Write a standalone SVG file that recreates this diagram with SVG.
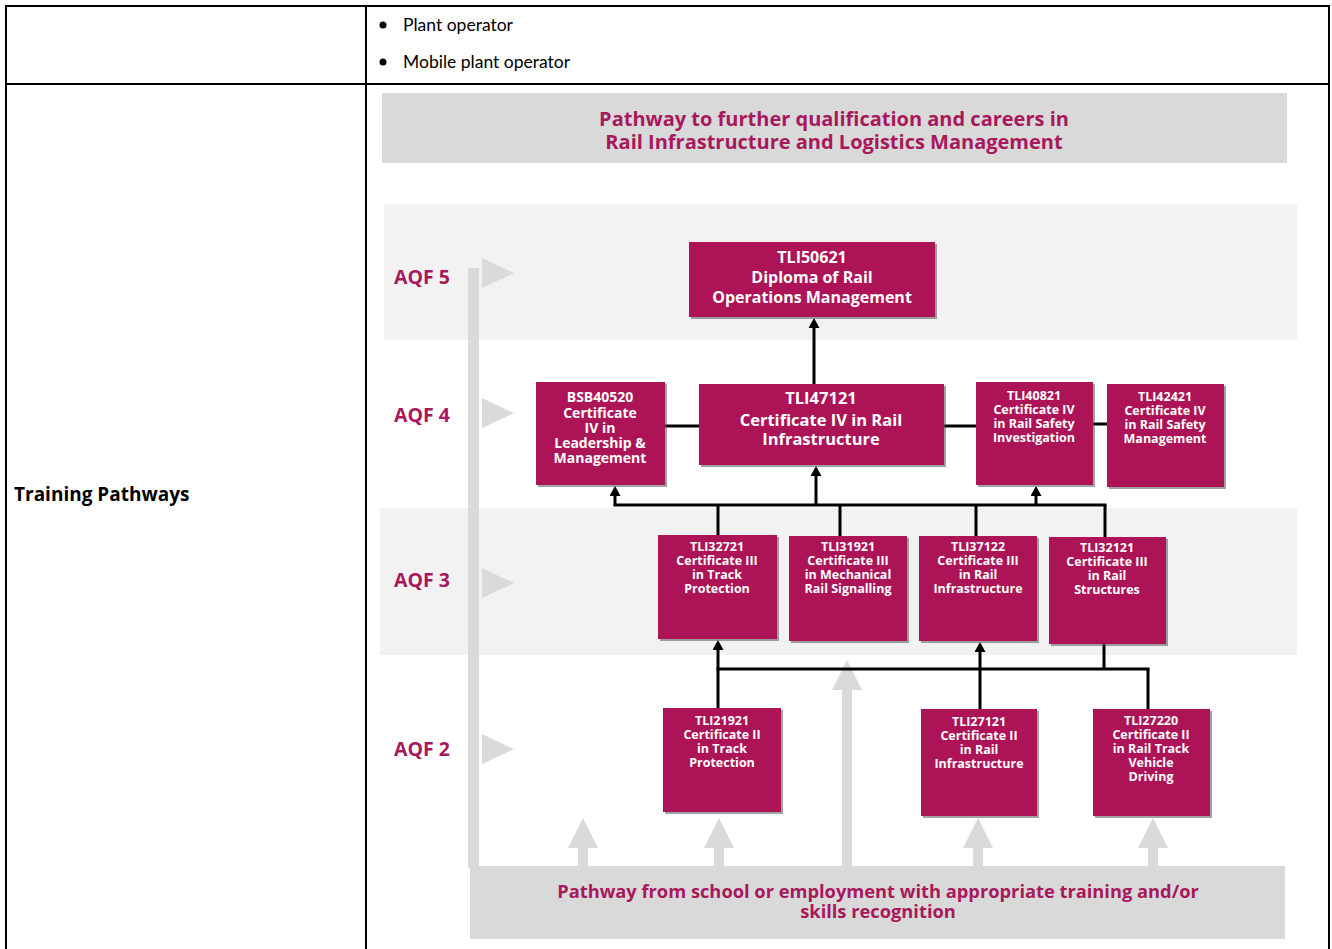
<svg xmlns="http://www.w3.org/2000/svg" width="1332" height="949" viewBox="0 0 1332 949">
<style>
.tbl{stroke:#000;stroke-width:2;fill:none}
.cell{font-family:Lato,'Open Sans',sans-serif;font-size:17.5px;fill:#000}
.lite{fill:#f2f2f2}
.gray{fill:#d9d9d9}
.hdr{font-family:'Open Sans',sans-serif;font-weight:700;font-size:20px;fill:#a8185c;text-anchor:middle}
.btm{font-family:'Open Sans',sans-serif;font-weight:700;font-size:18.3px;fill:#a8185c;text-anchor:middle}
.aqf{font-family:'Open Sans',sans-serif;font-weight:700;font-size:19.5px;fill:#a8185c}
.box{fill:#ad1457}
.sh{fill:#555;opacity:.55}
.bt{font-family:'Open Sans',sans-serif;font-weight:700;fill:#fff;text-anchor:middle}
.s{font-size:12.5px}
.conn{stroke:#000;stroke-width:3;fill:none}
</style>
<defs>
<marker id="ah" markerUnits="userSpaceOnUse" markerWidth="11" markerHeight="11" refX="7" refY="5.5" orient="auto">
<path d="M0,0 L10,5.5 L0,11 z" fill="#000"/>
</marker>
</defs>
<rect width="1332" height="949" fill="#fff"/>
<g id="table">
<line class="tbl" x1="5" y1="6" x2="1330" y2="6"/>
<line class="tbl" x1="6" y1="6" x2="6" y2="949"/>
<line class="tbl" x1="1329" y1="6" x2="1329" y2="949"/>
<line class="tbl" x1="366" y1="6" x2="366" y2="949"/>
<line class="tbl" x1="6" y1="84" x2="1329" y2="84"/>
<circle cx="383" cy="25" r="3.5"/>
<circle cx="383" cy="62" r="3.5"/>
<text class="cell" x="403" y="31">Plant operator</text>
<text class="cell" x="403" y="68">Mobile plant operator</text>
<text x="14" y="501" font-family="'Open Sans',sans-serif" font-weight="700" font-size="19">Training Pathways</text>
</g>
<g id="bands">
<rect class="gray" x="382" y="93" width="905" height="70"/>
<text class="hdr" x="834" y="126">Pathway to further qualification and careers in</text>
<text class="hdr" x="834" y="149">Rail Infrastructure and Logistics Management</text>
<rect class="lite" x="384" y="204" width="913" height="136"/>
<rect class="lite" x="380" y="508" width="917" height="147"/>
</g>
<g id="levels">
<text class="aqf" x="394" y="284">AQF 5</text>
<text class="aqf" x="394" y="422">AQF 4</text>
<text class="aqf" x="394" y="587">AQF 3</text>
<text class="aqf" x="394" y="756">AQF 2</text>
<g fill="#dadada">
<rect x="468" y="268" width="11" height="600"/>
<polygon points="482,258 514,273 482,288"/>
<polygon points="482,398 514,413 482,428"/>
<polygon points="482,568 514,583 482,598"/>
<polygon points="482,734 514,749 482,764"/>
<rect x="842" y="688" width="10" height="180"/>
<polygon points="832,690 847,660 862,690"/>
<rect x="578" y="846" width="10" height="22"/>
<polygon points="568,848 583,818 598,848"/>
<rect x="714" y="846" width="10" height="22"/>
<polygon points="704,848 719,818 734,848"/>
<rect x="973" y="846" width="10" height="22"/>
<polygon points="963,848 978,818 993,848"/>
<rect x="1148" y="846" width="10" height="22"/>
<polygon points="1138,848 1153,818 1168,848"/>
</g>
</g>
<g id="bottom-band">
<rect class="gray" x="470" y="866" width="815" height="73"/>
<text class="btm" x="878" y="898">Pathway from school or employment with appropriate training and/or</text>
<text class="btm" x="878" y="918">skills recognition</text>
</g>
<g id="connectors">
<line class="conn" x1="814" y1="384" x2="814" y2="321" marker-end="url(#ah)"/>
<line class="conn" x1="665" y1="426" x2="699" y2="426"/>
<line class="conn" x1="944" y1="426" x2="976" y2="426"/>
<line class="conn" x1="1093" y1="424" x2="1107" y2="424"/>
<line class="conn" x1="613.5" y1="505" x2="1106.5" y2="505"/>
<line class="conn" x1="615" y1="505" x2="615" y2="489" marker-end="url(#ah)"/>
<line class="conn" x1="816" y1="505" x2="816" y2="469" marker-end="url(#ah)"/>
<line class="conn" x1="1036" y1="505" x2="1036" y2="489" marker-end="url(#ah)"/>
<line class="conn" x1="718" y1="505" x2="718" y2="535"/>
<line class="conn" x1="840" y1="505" x2="840" y2="536"/>
<line class="conn" x1="976" y1="505" x2="976" y2="536"/>
<line class="conn" x1="1105" y1="505" x2="1105" y2="537"/>
<line class="conn" x1="716.5" y1="669" x2="1149.5" y2="669"/>
<line class="conn" x1="718" y1="708" x2="718" y2="643" marker-end="url(#ah)"/>
<line class="conn" x1="980" y1="709" x2="980" y2="645" marker-end="url(#ah)"/>
<line class="conn" x1="1104" y1="644" x2="1104" y2="669"/>
<line class="conn" x1="1148" y1="669" x2="1148" y2="709"/>
</g>
<g id="TLI50621">
<rect class="sh" x="691" y="244" width="246" height="75"/>
<rect class="box" x="689" y="242" width="246" height="75"/>
<text class="bt" font-size="16" x="812" y="263">TLI50621</text>
<text class="bt" font-size="16" x="812" y="283">Diploma of Rail</text>
<text class="bt" font-size="16" x="812" y="303">Operations Management</text>
</g>
<g id="BSB40520">
<rect class="sh" x="538" y="384" width="129" height="103"/>
<rect class="box" x="536" y="382" width="129" height="103"/>
<text class="bt" font-size="14" x="600" y="402">BSB40520</text>
<text class="bt" font-size="14" x="600" y="418">Certificate</text>
<text class="bt" font-size="14" x="600" y="433">IV in</text>
<text class="bt" font-size="14" x="600" y="448">Leadership &amp;</text>
<text class="bt" font-size="14" x="600" y="463">Management</text>
</g>
<g id="TLI47121">
<rect class="sh" x="701" y="386" width="245" height="81"/>
<rect class="box" x="699" y="384" width="245" height="81"/>
<text class="bt" font-size="16.5" x="821" y="404">TLI47121</text>
<text class="bt" font-size="16.5" x="821" y="426">Certificate IV in Rail</text>
<text class="bt" font-size="16.5" x="821" y="445">Infrastructure</text>
</g>
<g id="TLI40821">
<rect class="sh" x="978" y="384" width="117" height="103"/>
<rect class="box" x="976" y="382" width="117" height="103"/>
<text class="bt s" x="1034" y="400">TLI40821</text>
<text class="bt s" x="1034" y="414">Certificate IV</text>
<text class="bt s" x="1034" y="428">in Rail Safety</text>
<text class="bt s" x="1034" y="442">Investigation</text>
</g>
<g id="TLI42421">
<rect class="sh" x="1109" y="386" width="117" height="103"/>
<rect class="box" x="1107" y="384" width="117" height="103"/>
<text class="bt s" x="1165" y="401">TLI42421</text>
<text class="bt s" x="1165" y="415">Certificate IV</text>
<text class="bt s" x="1165" y="429">in Rail Safety</text>
<text class="bt s" x="1165" y="443">Management</text>
</g>
<g id="TLI32721">
<rect class="sh" x="660" y="537" width="119" height="104"/>
<rect class="box" x="658" y="535" width="119" height="104"/>
<text class="bt s" x="717" y="551">TLI32721</text>
<text class="bt s" x="717" y="565">Certificate III</text>
<text class="bt s" x="717" y="579">in Track</text>
<text class="bt s" x="717" y="593">Protection</text>
</g>
<g id="TLI31921">
<rect class="sh" x="791" y="538" width="118" height="105"/>
<rect class="box" x="789" y="536" width="118" height="105"/>
<text class="bt s" x="848" y="551">TLI31921</text>
<text class="bt s" x="848" y="565">Certificate III</text>
<text class="bt s" x="848" y="579">in Mechanical</text>
<text class="bt s" x="848" y="593">Rail Signalling</text>
</g>
<g id="TLI37122">
<rect class="sh" x="921" y="538" width="118" height="105"/>
<rect class="box" x="919" y="536" width="118" height="105"/>
<text class="bt s" x="978" y="551">TLI37122</text>
<text class="bt s" x="978" y="565">Certificate III</text>
<text class="bt s" x="978" y="579">in Rail</text>
<text class="bt s" x="978" y="593">Infrastructure</text>
</g>
<g id="TLI32121">
<rect class="sh" x="1051" y="539" width="117" height="107"/>
<rect class="box" x="1049" y="537" width="117" height="107"/>
<text class="bt s" x="1107" y="552">TLI32121</text>
<text class="bt s" x="1107" y="566">Certificate III</text>
<text class="bt s" x="1107" y="580">in Rail</text>
<text class="bt s" x="1107" y="594">Structures</text>
</g>
<g id="TLI21921">
<rect class="sh" x="665" y="710" width="118" height="104"/>
<rect class="box" x="663" y="708" width="118" height="104"/>
<text class="bt s" x="722" y="725">TLI21921</text>
<text class="bt s" x="722" y="739">Certificate II</text>
<text class="bt s" x="722" y="753">in Track</text>
<text class="bt s" x="722" y="767">Protection</text>
</g>
<g id="TLI27121">
<rect class="sh" x="923" y="711" width="116" height="107"/>
<rect class="box" x="921" y="709" width="116" height="107"/>
<text class="bt s" x="979" y="726">TLI27121</text>
<text class="bt s" x="979" y="740">Certificate II</text>
<text class="bt s" x="979" y="754">in Rail</text>
<text class="bt s" x="979" y="768">Infrastructure</text>
</g>
<g id="TLI27220">
<rect class="sh" x="1095" y="711" width="117" height="107"/>
<rect class="box" x="1093" y="709" width="117" height="107"/>
<text class="bt s" x="1151" y="725">TLI27220</text>
<text class="bt s" x="1151" y="739">Certificate II</text>
<text class="bt s" x="1151" y="753">in Rail Track</text>
<text class="bt s" x="1151" y="767">Vehicle</text>
<text class="bt s" x="1151" y="781">Driving</text>
</g>
</svg>
